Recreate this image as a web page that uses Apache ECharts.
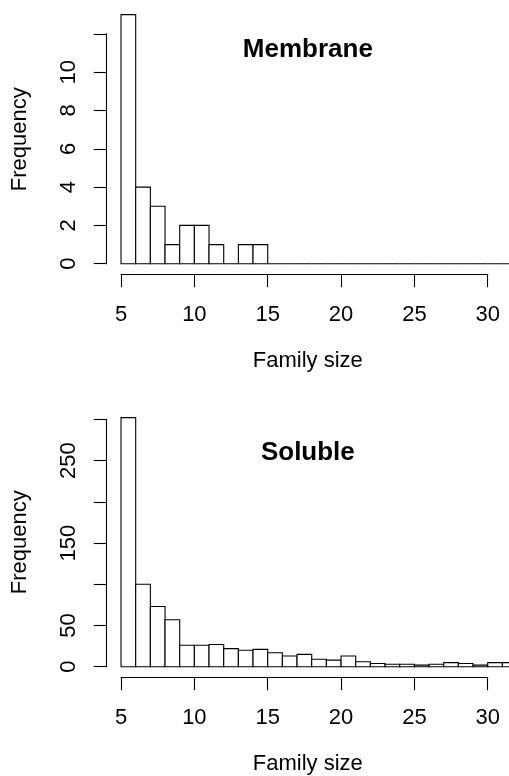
<!DOCTYPE html>
<html>
<head>
<meta charset="utf-8">
<script src="https://cdn.jsdelivr.net/npm/echarts@6/dist/echarts.min.js"></script>
<style>
  html, body { margin: 0; padding: 0; background: #fff; }
  #chart { width: 509px; height: 776px; }
</style>
</head>
<body>
<div id="chart"></div>
<script>
// bin edges of the histograms (family size)
const breaks = [5, 6, 7, 8, 9, 10, 11, 12, 13, 14, 15, 16, 17, 18, 19, 20, 21, 22, 23, 24, 25, 26, 27, 28, 29, 30, 31, 32];
// counts per bin
const membraneCounts = [13, 4, 3, 1, 2, 2, 1, 0, 1, 1, 0, 0, 0, 0, 0, 0, 0, 0, 0, 0, 0, 0, 0, 0, 0, 0, 0];
const solubleCounts = [302, 100, 73, 57, 26, 26, 27, 22, 20, 21, 17, 13, 15, 9, 8, 13, 6, 4, 3, 3, 2, 3, 5, 4, 2, 5, 5];
// axis ticks
const xTicks = [5, 10, 15, 20, 25, 30];
const membraneYTicks = [0, 2, 4, 6, 8, 10, 12];
const membraneYLabels = [0, 2, 4, 6, 8, 10];
const solubleYTicks = [0, 50, 100, 150, 200, 250, 300];
const solubleYLabels = [0, 50, 150, 250];

const FONT = '"Liberation Sans", Arial, Helvetica, sans-serif';

// plot region geometry
const plotLeft = 106.7, plotW = 402.3, plotH = 269;
const xMin = 4.023, xMax = 31.45;

const panels = [
  { title: 'Membrane', counts: membraneCounts, top: 4.7, yTicks: membraneYTicks, yLabels: membraneYLabels, titleY: 50 },
  { title: 'Soluble', counts: solubleCounts, top: 407.7, yTicks: solubleYTicks, yLabels: solubleYLabels, titleY: 453 }
];

function xPix(v) { return plotLeft + (v - xMin) / (xMax - xMin) * plotW; }

const grids = [], xAxes = [], yAxes = [], series = [], graphics = [];

panels.forEach(function (p) {
  const ymax = Math.max.apply(null, p.counts);
  const yLo = -0.04 * ymax, yHi = 1.04 * ymax;
  const yPix = function (v) { return p.top + (yHi - v) / (yHi - yLo) * plotH; };
  const tickMin = p.yTicks[0], tickMax = p.yTicks[p.yTicks.length - 1];
  const tickStep = p.yTicks[1] - p.yTicks[0];

  // 1) plot region holding the bars + axis titles
  let g = grids.length;
  grids.push({ left: plotLeft, top: p.top, width: plotW, height: plotH });
  xAxes.push({
    gridIndex: g, type: 'value', min: xMin, max: xMax,
    axisLine: { show: false }, axisTick: { show: false }, axisLabel: { show: false }, splitLine: { show: false },
    name: 'Family size', nameLocation: 'middle', nameGap: 76,
    nameTextStyle: { fontFamily: FONT, fontSize: 22, color: '#000', verticalAlign: 'top' }
  });
  yAxes.push({
    gridIndex: g, type: 'value', min: yLo, max: yHi,
    axisLine: { show: false }, axisTick: { show: false }, axisLabel: { show: false }, splitLine: { show: false },
    name: 'Frequency', nameLocation: 'middle', nameGap: 76,
    nameTextStyle: { fontFamily: FONT, fontSize: 22, color: '#000' }
  });
  const data = p.counts.map(function (c, i) { return [breaks[i], breaks[i + 1], c]; });
  series.push({
    type: 'custom', xAxisIndex: g, yAxisIndex: g, data: data, silent: true,
    renderItem: function (params, api) {
      const a = api.coord([api.value(0), 0]);
      const b = api.coord([api.value(1), api.value(2)]);
      return {
        type: 'rect',
        shape: { x: a[0], y: b[1], width: b[0] - a[0], height: a[1] - b[1] },
        style: { fill: '#fff', stroke: '#000', lineWidth: 1.1 }
      };
    }
  });

  // 2) x axis from 5 to 30, drawn under the plot region (R style)
  g = grids.length;
  grids.push({ left: xPix(xTicks[0]), width: xPix(xTicks[xTicks.length - 1]) - xPix(xTicks[0]), top: p.top + plotH, height: 0.5 });
  xAxes.push({
    gridIndex: g, type: 'value', min: xTicks[0], max: xTicks[xTicks.length - 1], interval: 5,
    axisLine: { show: true, onZero: false, lineStyle: { color: '#000', width: 1.1 } },
    axisTick: { show: true, length: 13, lineStyle: { color: '#000', width: 1.1 } },
    axisLabel: { fontFamily: FONT, fontSize: 22, color: '#000', margin: 30, showMinLabel: true, showMaxLabel: true },
    splitLine: { show: false }
  });
  yAxes.push({ gridIndex: g, type: 'value', show: false, min: 0, max: 1 });

  // 3) y axis covering the tick range only
  g = grids.length;
  grids.push({ left: plotLeft, width: 1, top: yPix(tickMax), height: yPix(tickMin) - yPix(tickMax) });
  xAxes.push({ gridIndex: g, type: 'value', show: false, min: 0, max: 1 });
  yAxes.push({
    gridIndex: g, type: 'value', min: tickMin, max: tickMax, interval: tickStep,
    axisLine: { show: true, onZero: false, lineStyle: { color: '#000', width: 1.1 } },
    axisTick: { show: true, length: 13, lineStyle: { color: '#000', width: 1.1 } },
    axisLabel: {
      fontFamily: FONT, fontSize: 22, color: '#000', margin: 27, rotate: 90,
      showMinLabel: true, showMaxLabel: true,
      formatter: function (v) { return p.yLabels.indexOf(v) >= 0 ? String(v) : ''; }
    },
    splitLine: { show: false }
  });

  // panel title inside the plot
  graphics.push({
    type: 'text', x: (plotLeft + plotLeft + plotW) / 2, y: p.titleY,
    style: { text: p.title, font: 'bold 26px ' + FONT, fill: '#000', textAlign: 'center', textVerticalAlign: 'middle' }
  });
});

const chart = echarts.init(document.getElementById('chart'));
chart.setOption({
  animation: false,
  backgroundColor: '#fff',
  grid: grids,
  xAxis: xAxes,
  yAxis: yAxes,
  series: series,
  graphic: graphics
});
</script>
</body>
</html>
